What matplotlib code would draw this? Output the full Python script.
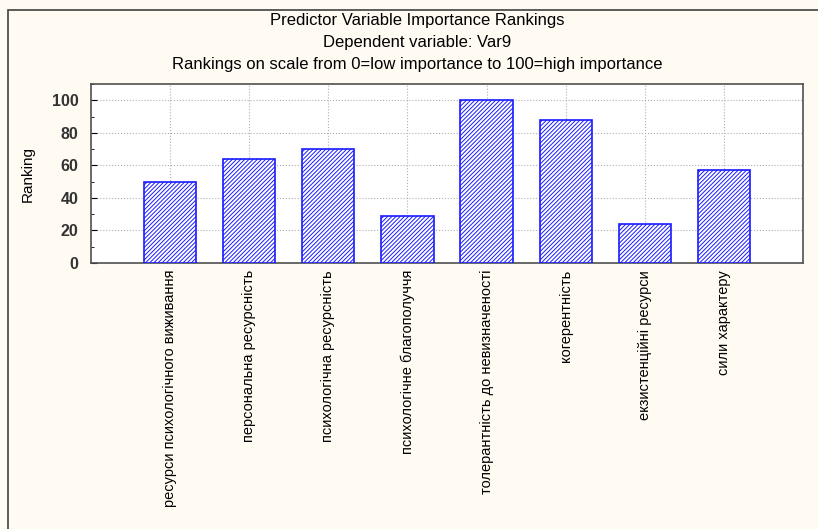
import matplotlib.pyplot as plt
import numpy as np
from matplotlib.patches import Rectangle

plt.rcParams['font.family'] = ['Liberation Sans', 'DejaVu Sans']
plt.rcParams['hatch.color'] = '#3030ff'
plt.rcParams['hatch.linewidth'] = 0.7

categories = ['ресурси психологічного виживання', 'персональна ресурсність',
              'психологічна ресурсність', 'психологічне благополуччя',
              'толерантність до невизначеності', 'когерентність',
              'екзистенційні ресурси', 'сили характеру']
ranking = [49.5, 64, 70, 29, 100, 88, 24, 57]

fig = plt.figure(figsize=(8.18, 5.29), dpi=100, facecolor='#fffaf2')
ax = fig.add_axes([91/818, 1 - 263/529, (803-91)/818, (263-84)/529])
ax.set_facecolor('white')

# outer frame
fig.patches.append(Rectangle((8/818, -0.1), 1.2, 1 - 10/529 + 0.1,
                             transform=fig.transFigure, fill=False,
                             edgecolor='#404040', linewidth=1.2))

x = np.arange(1, len(categories) + 1)
ax.bar(x, ranking, 0.66, facecolor='white', edgecolor='#1a1aff',
       linewidth=1.2, hatch='////////', zorder=3)

ax.set_xlim(0, 9)
ax.set_ylim(0, 110)
ax.set_yticks([0, 20, 40, 60, 80, 100])
ax.set_yticks(np.arange(0, 111, 10), minor=True)
ax.set_xticks(x)
ax.set_xticklabels(categories, rotation=90, va='top', ha='center', fontsize=10.5)
ax.tick_params(axis='x', length=0, pad=5)
ax.tick_params(axis='y', which='major', direction='in', length=4, labelsize=11.5, pad=9)
ax.tick_params(axis='y', which='minor', direction='in', length=2)
for lab in ax.get_yticklabels():
    lab.set_fontweight('bold')
    lab.set_color('#333333')
ax.grid(True, color='#b0b0b0', linestyle=':', linewidth=0.8, zorder=0)
ax.set_axisbelow(True)
for s in ax.spines.values():
    s.set_color('#505050')
    s.set_linewidth(1.2)

ax.set_ylabel('Ranking', fontsize=11, labelpad=12)

cx = 417/818
fig.text(cx, 1 - 21/529, 'Predictor Variable Importance Rankings', ha='center', va='center', fontsize=12)
fig.text(cx, 1 - 43/529, 'Dependent variable: Var9', ha='center', va='center', fontsize=12)
fig.text(cx, 1 - 65/529, 'Rankings on scale from 0=low importance to 100=high importance',
         ha='center', va='center', fontsize=12)

fig.savefig('out.png', dpi=100, facecolor=fig.get_facecolor())
